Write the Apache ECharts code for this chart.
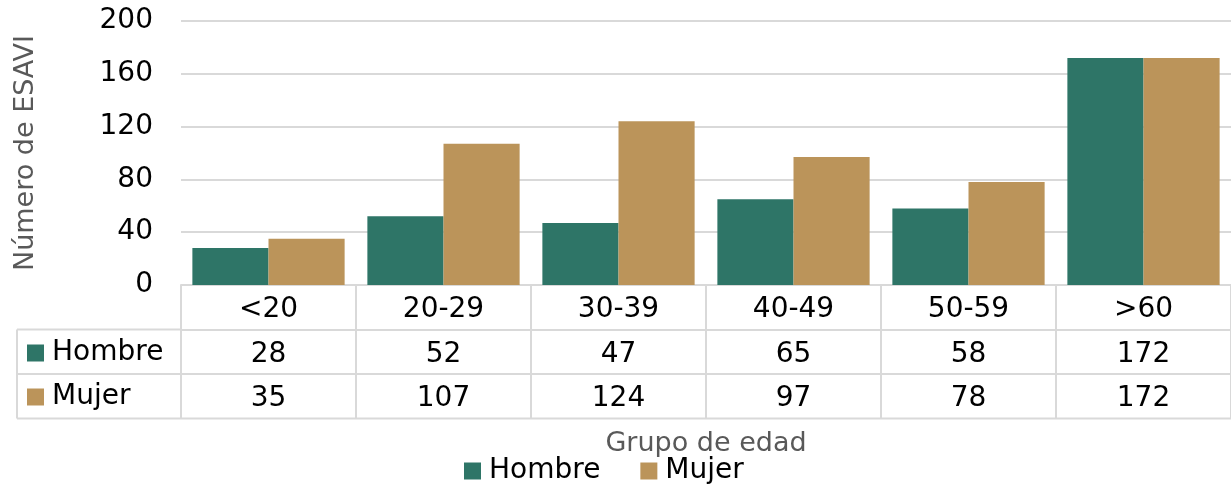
<!DOCTYPE html>
<html>
<head>
<meta charset="utf-8">
<script src="https://cdn.jsdelivr.net/npm/echarts@6/dist/echarts.min.js"></script>
<style>
  html, body { margin: 0; padding: 0; background: #fff; }
  #main { width: 1231px; height: 487px; }
</style>
</head>
<body>
<div id="main"></div>
<script>
const categories = ['<20', '20-29', '30-39', '40-49', '50-59', '>60']
const hombre = [28, 52, 47, 65, 58, 172]
const mujer = [35, 107, 124, 97, 78, 172]
const yTicks = { min: 0, max: 200, interval: 40 }

const FONT = 'DejaVu Sans'
const FS = 28
const GRID_LINE = '#d9d9d9'
const GREEN = '#2e7567'
const TAN = '#bb945a'

// layout of the data table under the plot
const plotLeft = 181
const plotBottom = 285
const rowH = 44.5
const tableLeft = 17

const chart = echarts.init(document.getElementById('main'))

function tableAxis(values, offset) {
  return {
    type: 'category',
    position: 'bottom',
    offset: offset,
    data: values.map(String),
    axisLine: { show: true, lineStyle: { color: GRID_LINE, width: 2 } },
    axisTick: { show: true, length: rowH, lineStyle: { color: GRID_LINE, width: 2 } },
    axisLabel: {
      interval: 0, margin: 25, verticalAlign: 'middle',
      color: '#000', fontFamily: FONT, fontSize: FS
    }
  }
}

const xMain = tableAxis(categories, 0)
xMain.name = 'Grupo de edad'
xMain.nameLocation = 'middle'
xMain.nameGap = 145
xMain.nameTextStyle = { color: '#595959', fontFamily: FONT, fontSize: 27 }

const line = (x1, y1, x2, y2) => ({
  type: 'line',
  shape: { x1, y1, x2, y2 },
  style: { stroke: GRID_LINE, lineWidth: 2 },
  silent: true
})

const legendText = {
  color: '#000', fontFamily: FONT, fontSize: FS, padding: [0, 0, 0, 3]
}

chart.setOption({
  animation: false,
  textStyle: { fontFamily: FONT },
  grid: {
    left: plotLeft, right: 0, top: 21, bottom: 487 - plotBottom,
    outerBoundsMode: 'none'
  },
  legend: [
    {
      data: ['Hombre'], left: 22, top: 334, selectedMode: false,
      icon: 'rect', itemWidth: 17, itemHeight: 17, textStyle: legendText
    },
    {
      data: ['Mujer'], left: 22, top: 378, selectedMode: false,
      icon: 'rect', itemWidth: 17, itemHeight: 17, textStyle: legendText
    },
    {
      data: ['Hombre', 'Mujer'], left: 459, top: 452, selectedMode: false,
      icon: 'rect', itemWidth: 17, itemHeight: 17, itemGap: 40,
      textStyle: legendText
    }
  ],
  xAxis: [
    xMain,
    tableAxis(hombre, rowH),
    tableAxis(mujer, rowH * 2)
  ],
  yAxis: {
    type: 'value',
    min: yTicks.min, max: yTicks.max, interval: yTicks.interval,
    name: 'Número de ESAVI',
    nameLocation: 'middle',
    nameGap: 142,
    nameTextStyle: { color: '#595959', fontFamily: FONT, fontSize: 27 },
    axisLine: { show: false },
    axisTick: { show: false },
    axisLabel: { margin: 28, color: '#000', fontFamily: FONT, fontSize: FS },
    splitLine: { lineStyle: { color: GRID_LINE, width: 2 } }
  },
  series: [
    {
      name: 'Hombre', type: 'bar', xAxisIndex: 0, data: hombre,
      barGap: '0%', barCategoryGap: '13%',
      itemStyle: { color: GREEN }
    },
    {
      name: 'Mujer', type: 'bar', xAxisIndex: 0, data: mujer,
      barGap: '0%', barCategoryGap: '13%',
      itemStyle: { color: TAN }
    }
  ],
  graphic: [
    // left column of the data table and its bottom edge
    line(tableLeft, plotBottom + rowH, plotLeft, plotBottom + rowH),
    line(tableLeft, plotBottom + rowH * 2, plotLeft, plotBottom + rowH * 2),
    line(tableLeft, plotBottom + rowH * 3, 1231, plotBottom + rowH * 3),
    line(tableLeft, plotBottom + rowH, tableLeft, plotBottom + rowH * 3)
  ]
})
</script>
</body>
</html>
